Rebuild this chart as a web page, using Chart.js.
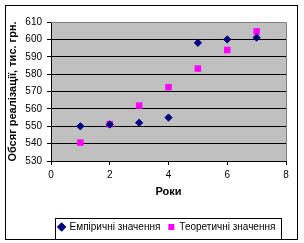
<!DOCTYPE html>
<html><head><meta charset="utf-8">
<script src="https://cdn.jsdelivr.net/npm/chart.js@4"></script>
<style>html,body{margin:0;padding:0;background:#fff;overflow:hidden}</style>
</head><body>
<canvas id="c" width="304" height="243" style="display:block;width:304px;height:243px"></canvas>
<script>
const years = [1, 2, 3, 4, 5, 6, 7];
const empirical = [550, 551, 552, 555, 598, 600, 601];
const theoretical = [540.6, 551.2, 561.9, 572.5, 583.2, 593.9, 604.6];
const seriesNames = ['Емпіричні значення', 'Теоретичні значення'];
const xTitle = 'Роки';
const yTitle = 'Обсяг реалізації, тис. грн.';

const FONT = '"Liberation Sans", Arial, sans-serif';

const framePlugin = {
  id: 'framePlugin',
  afterLayout(chart) {
    const lg = chart.legend;
    if (lg) {
      lg.left += 24;
      lg.right += 24;
    }
  },
  beforeDraw(chart) {
    const {ctx, chartArea: a} = chart;
    ctx.save();
    ctx.fillStyle = '#ffffff';
    ctx.fillRect(0, 0, chart.width, chart.height);
    ctx.fillStyle = '#C0C0C0';
    ctx.fillRect(a.left, a.top, a.right - a.left, a.bottom - a.top);
    ctx.restore();
  },
  beforeDatasetsDraw(chart) {
    const {ctx, chartArea: a} = chart;
    ctx.save();
    ctx.strokeStyle = '#808080';
    ctx.lineWidth = 1;
    ctx.beginPath();
    ctx.moveTo(Math.round(a.left), Math.round(a.top) + 0.5);
    ctx.lineTo(Math.round(a.right) + 0.5, Math.round(a.top) + 0.5);
    ctx.lineTo(Math.round(a.right) + 0.5, Math.round(a.bottom));
    ctx.stroke();
    ctx.restore();
  },
  afterDraw(chart) {
    const {ctx} = chart;
    ctx.save();
    ctx.strokeStyle = '#000';
    ctx.lineWidth = 1;
    ctx.strokeRect(5.5, 5.5, 292, 234);
    const hb = chart.legend.legendHitBoxes;
    if (hb && hb.length) {
      const l = Math.min(...hb.map(h => h.left)) - 4;
      const r = Math.max(...hb.map(h => h.left + h.width)) + 5;
      const cy = hb[0].top + hb[0].height / 2;
      const t = cy - 9;
      const b = cy + 12;
      ctx.lineWidth = 1;
      ctx.strokeRect(Math.round(l) + 0.5, Math.round(t) + 0.5, Math.round(r - l), Math.round(b - t));
    }
    ctx.restore();
  }
};

new Chart(document.getElementById('c'), {
  type: 'scatter',
  data: {
    datasets: [
      {
        label: seriesNames[0],
        data: years.map((x, i) => ({x, y: empirical[i]})),
        pointStyle: 'rectRot',
        pointRadius: 3.6,
        backgroundColor: '#000080',
        borderColor: '#000080',
        borderWidth: 1
      },
      {
        label: seriesNames[1],
        data: years.map((x, i) => ({x, y: theoretical[i]})),
        pointStyle: 'rect',
        pointRadius: 4.6,
        backgroundColor: '#FF00FF',
        borderColor: '#FF00FF',
        borderWidth: 0
      }
    ]
  },
  options: {
    responsive: false,
    devicePixelRatio: 1,
    animation: false,
    events: [],
    layout: {padding: {top: 22, right: 18, left: 0, bottom: 1}},
    plugins: {
      tooltip: {enabled: false},
      legend: {
        position: 'bottom',
        labels: {
          usePointStyle: true,
          boxWidth: 6,
          boxHeight: 6,
          padding: 8,
          color: '#000',
          font: {family: FONT, size: 10}
        }
      }
    },
    scales: {
      x: {
        type: 'linear',
        min: 0, max: 8,
        afterFit(s) { s.height = 53; },
        ticks: {stepSize: 2, color: '#000', font: {family: FONT, size: 10}, padding: 4},
        grid: {drawOnChartArea: false, drawTicks: true, tickLength: 4, color: '#000'},
        border: {color: '#000', width: 1},
        title: {display: true, text: xTitle, color: '#000', font: {family: FONT, size: 11, weight: 'bold'}, padding: {top: 4, bottom: 15}}
      },
      y: {
        min: 530, max: 610,
        afterFit(s) { s.width = 51; },
        ticks: {stepSize: 10, color: '#000', font: {family: FONT, size: 10}, padding: 5},
        grid: {color: '#000', tickLength: 4, drawTicks: true},
        border: {color: '#000', width: 1},
        title: {display: true, text: yTitle, color: '#000', font: {family: FONT, size: 11, weight: 'bold'}, padding: {top: 6, bottom: 2}}
      }
    }
  },
  plugins: [framePlugin]
});
</script>
</body></html>
